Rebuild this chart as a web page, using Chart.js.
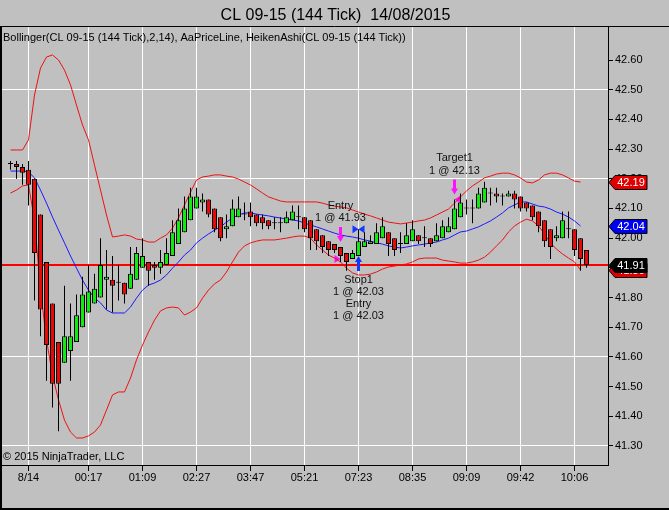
<!DOCTYPE html>
<html>
<head>
<meta charset="utf-8">
<title>CL 09-15 (144 Tick) 14/08/2015</title>
<script src="https://cdn.jsdelivr.net/npm/chart.js@4.4.0/dist/chart.umd.min.js"></script>
<style>
  html, body { margin: 0; padding: 0; background: #c0c0c0; }
</style>
</head>
<body>
<canvas id="priceChart" width="669" height="510"></canvas>
<script>
// Heiken Ashi bars, one per 144 ticks
var opens = [42.25,42.25,42.24,42.23,42.20,42.08,41.92,41.78,41.65,41.58,
  41.62,41.65,41.70,41.75,41.78,41.80,41.86,41.86,41.85,41.85,
  41.83,41.86,41.90,41.92,41.91,41.90,41.91,41.94,41.98,42.02,
  42.06,42.10,42.12,42.13,42.10,42.07,42.03,42.04,42.07,42.08,
  42.09,42.08,42.07,42.06,42.05,42.05,42.05,42.06,42.07,42.07,
  42.06,42.03,42.01,41.99,41.98,41.97,41.95,41.93,41.94,41.97,
  41.98,41.98,42.00,42.02,42.00,41.98,41.98,41.99,42.01,42.00,
  42.00,41.99,42.00,42.02,42.03,42.07,42.10,42.10,42.10,42.12,
  42.15,42.15,42.14,42.14,42.15,42.14,42.12,42.11,42.09,42.06,
  42.03,42.00,42.00,42.03,42.03,42.00,41.96];
var highs = [42.26,42.26,42.25,42.26,42.20,42.08,41.92,41.78,41.65,41.84,
  41.78,41.81,41.87,41.91,41.88,42.00,41.96,41.94,41.91,41.85,
  41.97,41.97,42.00,41.92,41.92,41.96,42.00,42.06,42.10,42.14,
  42.17,42.17,42.15,42.13,42.10,42.07,42.08,42.13,42.14,42.12,
  42.12,42.08,42.08,42.06,42.07,42.07,42.09,42.11,42.11,42.07,
  42.06,42.03,42.01,41.99,41.98,41.97,41.95,41.96,42.03,42.02,
  42.01,42.05,42.07,42.02,42.00,42.02,42.05,42.06,42.01,42.04,
  42.00,42.05,42.06,42.07,42.13,42.15,42.13,42.13,42.17,42.19,
  42.17,42.17,42.15,42.16,42.16,42.14,42.12,42.11,42.09,42.06,
  42.03,42.04,42.09,42.09,42.03,42.00,41.96];
var lows = [42.23,42.20,42.18,42.11,41.79,41.67,41.52,41.43,41.35,41.58,
  41.52,41.65,41.70,41.75,41.78,41.80,41.76,41.75,41.79,41.78,
  41.83,41.86,41.90,41.84,41.86,41.88,41.91,41.94,41.98,42.02,
  42.06,42.10,42.09,42.07,42.02,41.99,42.00,42.04,42.07,42.06,
  42.04,42.04,42.03,42.03,42.03,42.02,42.05,42.06,42.03,42.02,
  41.96,41.96,41.95,41.94,41.95,41.92,41.89,41.93,41.94,41.97,
  41.98,41.98,42.00,41.94,41.94,41.95,41.98,41.99,41.98,41.97,
  41.97,41.99,42.00,42.02,42.03,42.07,42.08,42.05,42.10,42.12,
  42.11,42.12,42.11,42.14,42.10,42.09,42.09,42.06,42.02,41.97,
  41.93,41.99,42.00,42.00,41.94,41.89,41.90];
var closes = [42.25,42.24,42.22,42.18,41.95,41.76,41.64,41.51,41.51,41.67,
  41.67,41.74,41.81,41.82,41.83,41.91,41.87,41.84,41.85,41.81,
  41.88,41.95,41.94,41.89,41.90,41.92,41.95,42.02,42.06,42.10,
  42.14,42.14,42.13,42.08,42.03,42.00,42.04,42.10,42.10,42.08,
  42.07,42.05,42.05,42.04,42.05,42.05,42.07,42.09,42.07,42.03,
  42.00,41.99,41.97,41.96,41.96,41.94,41.92,41.95,41.99,41.99,
  41.99,42.02,42.04,41.98,41.96,41.98,42.01,42.03,41.99,42.00,
  41.98,42.01,42.04,42.04,42.10,42.12,42.10,42.10,42.15,42.17,
  42.15,42.14,42.14,42.15,42.13,42.10,42.10,42.07,42.04,41.99,
  41.97,42.01,42.06,42.03,41.96,41.93,41.91];

// Bollinger(2,14) (no value on the live bar)
var upperBand = [42.297,42.297,42.297,42.331,42.482,42.573,42.610,42.617,42.600,42.566,
  42.516,42.448,42.381,42.331,42.246,42.162,42.078,42.004,42.007,42.011,
  42.007,41.997,41.994,41.987,41.987,42.000,42.011,42.034,42.068,42.112,
  42.155,42.196,42.206,42.209,42.213,42.213,42.209,42.206,42.199,42.189,
  42.179,42.166,42.152,42.139,42.132,42.125,42.122,42.122,42.122,42.122,
  42.122,42.122,42.118,42.112,42.108,42.105,42.102,42.095,42.088,42.081,
  42.075,42.068,42.061,42.054,42.051,42.048,42.051,42.054,42.058,42.061,
  42.068,42.078,42.088,42.098,42.118,42.139,42.159,42.176,42.189,42.203,
  42.209,42.216,42.219,42.219,42.213,42.203,42.189,42.186,42.196,42.213,
  42.219,42.219,42.213,42.203,42.192,42.189];
var middleBand = [42.226,42.226,42.226,42.223,42.203,42.162,42.118,42.071,42.027,41.984,
  41.940,41.899,41.859,41.825,41.798,41.782,41.758,41.748,41.748,41.748,
  41.768,41.798,41.825,41.842,41.849,41.859,41.876,41.899,41.920,41.943,
  41.960,41.984,42.000,42.014,42.027,42.038,42.054,42.068,42.078,42.085,
  42.085,42.081,42.078,42.075,42.071,42.068,42.064,42.061,42.058,42.051,
  42.044,42.038,42.031,42.024,42.017,42.011,42.007,42.004,42.000,41.994,
  41.990,41.984,41.980,41.974,41.970,41.967,41.970,41.974,41.977,41.980,
  41.984,41.987,41.994,42.000,42.011,42.021,42.024,42.031,42.038,42.048,
  42.058,42.071,42.085,42.102,42.112,42.122,42.122,42.115,42.108,42.105,
  42.098,42.088,42.081,42.071,42.058,42.041];
var lowerBand = [42.152,42.162,42.176,42.179,42.061,41.825,41.657,41.539,41.455,41.387,
  41.347,41.327,41.327,41.334,41.347,41.371,41.421,41.472,41.482,41.482,
  41.529,41.590,41.640,41.684,41.724,41.755,41.765,41.768,41.765,41.741,
  41.751,41.765,41.798,41.825,41.846,41.859,41.886,41.920,41.953,41.974,
  41.984,41.990,41.994,41.994,41.994,41.997,42.000,42.004,42.007,42.007,
  42.000,41.977,41.960,41.943,41.933,41.920,41.899,41.883,41.876,41.876,
  41.879,41.886,41.896,41.903,41.906,41.910,41.913,41.920,41.930,41.933,
  41.933,41.933,41.926,41.923,41.920,41.916,41.916,41.920,41.926,41.936,
  41.953,41.974,41.994,42.021,42.041,42.054,42.064,42.058,42.041,42.014,
  41.984,41.963,41.947,41.933,41.920,41.893];

// axis ticks
var timeTicks = [3, 13, 22, 31, 40, 49, 58, 67, 76, 85, 94];
var timeLabels = ["8/14", "00:17", "01:09", "02:27", "03:47", "05:21", "07:23", "08:35", "09:09", "09:42", "10:06"];
var priceTicks = [41.3, 41.4, 41.5, 41.6, 41.7, 41.8, 41.9, 42.0, 42.1, 42.2, 42.3, 42.4, 42.5, 42.6];
var priceGrid = [41.3, 41.6, 42.2, 42.5];

// trades
var tradeBars = [55, 58, 74];
var tradeSides = ["sell", "buy", "sell"];
var tradeTexts = [["Entry", "1 @ 41.93"], ["Stop1", "1 @ 42.03", "Entry", "1 @ 42.03"], ["Target1", "1 @ 42.13"]];
var fills = [
  { bar: 55, price: 41.93, side: "sell", kind: "entry" },
  { bar: 58, price: 42.03, side: "buy", kind: "exit" },
  { bar: 58, price: 42.03, side: "buy", kind: "entry" },
  { bar: 74, price: 42.13, side: "sell", kind: "exit" }
];

var FONT = "'Liberation Sans', Arial, sans-serif";
var UP = "#10ea10", DOWN = "#e80808", SELL = "#ff10ff", BUY = "#1038ff";
var last = closes.length - 1;

Chart.defaults.font.family = FONT;
Chart.defaults.font.size = 11;
Chart.defaults.color = "#000";

function pts(arr) {
  return arr.map(function (v, i) { return { x: i, y: v }; });
}
function near(a, b) { return Math.abs(a - b) < 1e-6; }

var bg = {
  id: "bg",
  beforeDraw: function (chart) {
    var c = chart.ctx;
    c.save();
    c.fillStyle = "#c0c0c0";
    c.fillRect(0, 0, chart.width, chart.height);
    c.restore();
  },
  beforeDatasetsDraw: function (chart) {
    var c = chart.ctx, x = chart.scales.x, y = chart.scales.y, a = chart.chartArea;
    c.save();
    // AaPriceLine
    var py = Math.round(y.getPixelForValue(closes[last]));
    c.strokeStyle = "#ff0000";
    c.lineWidth = 2;
    c.beginPath();
    c.moveTo(a.left, py);
    c.lineTo(a.right, py);
    c.stroke();
    // fill markers sit behind the bars
    fills.forEach(function (f) {
      var bx = x.getPixelForValue(f.bar);
      var fy = y.getPixelForValue(f.price);
      var base = f.kind === "entry" ? bx - 6 : bx + 6;
      c.fillStyle = f.side === "buy" ? BUY : SELL;
      c.beginPath();
      c.moveTo(base, fy - 4);
      c.lineTo(bx, fy);
      c.lineTo(base, fy + 4);
      c.closePath();
      c.fill();
    });
    c.restore();
  }
};

function arrow(c, cx, tip, dir, color) {
  // dir -1: pointing down (shaft above tip), 1: pointing up
  var len = 15, head = 6;
  c.fillStyle = color;
  c.beginPath();
  c.moveTo(cx, tip);
  c.lineTo(cx + 3.5, tip + dir * head);
  c.lineTo(cx + 1.5, tip + dir * head);
  c.lineTo(cx + 1.5, tip + dir * len);
  c.lineTo(cx - 1.5, tip + dir * len);
  c.lineTo(cx - 1.5, tip + dir * head);
  c.lineTo(cx - 3.5, tip + dir * head);
  c.closePath();
  c.fill();
}

var trades = {
  id: "trades",
  afterDatasetsDraw: function (chart) {
    var c = chart.ctx, x = chart.scales.x, y = chart.scales.y;
    c.save();
    c.font = "11px " + FONT;
    c.textAlign = "center";
    c.textBaseline = "middle";
    tradeBars.forEach(function (b, k) {
      var cx = x.getPixelForValue(b);
      var lines = tradeTexts[k];
      if (tradeSides[k] === "sell") {
        var tip = y.getPixelForValue(highs[b]) - 5;
        arrow(c, cx, tip, -1, SELL);
        c.fillStyle = "#111";
        for (var j = lines.length - 1, ty = tip - 24; j >= 0; j--, ty -= 12.5) {
          c.fillText(lines[j], cx, ty);
        }
      } else {
        var tipB = y.getPixelForValue(lows[b]);
        arrow(c, cx, tipB, 1, BUY);
        c.fillStyle = "#111";
        for (var n = 0, ty2 = tipB + 24; n < lines.length; n++, ty2 += 12) {
          c.fillText(lines[n], cx, ty2);
        }
      }
    });
    c.restore();
  }
};

var frame = {
  id: "frame",
  afterDraw: function (chart) {
    var c = chart.ctx, y = chart.scales.y, a = chart.chartArea;
    c.save();
    c.strokeStyle = "#000";
    c.lineWidth = 1;
    c.beginPath();
    c.moveTo(0, Math.round(a.top) - 0.5);
    c.lineTo(chart.width, Math.round(a.top) - 0.5);
    c.stroke();
    c.lineWidth = 2;
    c.beginPath();
    c.moveTo(1, Math.round(a.top) - 1);
    c.lineTo(1, chart.height - 1);
    c.lineTo(chart.width, chart.height - 1);
    c.stroke();

    c.fillStyle = "#000";
    c.font = "11px " + FONT;
    c.textAlign = "left";
    c.textBaseline = "middle";
    c.fillText("Bollinger(CL 09-15 (144 Tick),2,14), AaPriceLine, HeikenAshi(CL 09-15 (144 Tick))", 3, a.top + 11);
    c.fillText("\u00a9 2015 NinjaTrader, LLC", 3, a.bottom - 8);

    // value flags on the price axis
    var flags = [
      [lowerBand[lowerBand.length - 1], "#e00000"],
      [upperBand[upperBand.length - 1], "#e00000"],
      [middleBand[middleBand.length - 1], "#0000f0"],
      [closes[last], "#000"]
    ];
    var x0 = a.right;
    flags.forEach(function (f) {
      var fy = Math.round(y.getPixelForValue(f[0]));
      c.beginPath();
      c.moveTo(x0 + 1, fy + 0.5);
      c.lineTo(x0 + 7, fy - 6.5);
      c.lineTo(x0 + 39, fy - 6.5);
      c.lineTo(x0 + 39, fy + 7.5);
      c.lineTo(x0 + 7, fy + 7.5);
      c.closePath();
      c.fillStyle = f[1];
      c.fill();
      c.lineWidth = 1;
      c.strokeStyle = "#000";
      c.stroke();
      c.fillStyle = "#fff";
      c.textAlign = "center";
      c.fillText(f[0].toFixed(2), x0 + 23, fy + 1);
    });
    c.restore();
  }
};

var ctx = document.getElementById("priceChart").getContext("2d");
var bars = closes.map(function (v, i) { return i; });

var priceChart = new Chart(ctx, {
  type: "bar",
  data: {
    datasets: [
      { type: "line", label: "Upper", data: pts(upperBand), borderColor: "#f01010", borderWidth: 1, pointRadius: 0, tension: 0, order: 5 },
      { type: "line", label: "Lower", data: pts(lowerBand), borderColor: "#f01010", borderWidth: 1, pointRadius: 0, tension: 0, order: 5 },
      { type: "line", label: "Middle", data: pts(middleBand), borderColor: "#1a1aff", borderWidth: 1, pointRadius: 0, tension: 0, order: 5 },
      {
        label: "Wick",
        data: bars.map(function (i) { return { x: i, y: [lows[i], highs[i]] }; }),
        backgroundColor: "#000",
        borderWidth: 0,
        barThickness: 1,
        inflateAmount: 0,
        minBarLength: 1,
        grouped: false,
        order: 2
      },
      {
        label: "Body",
        data: bars.map(function (i) { return { x: i, y: [opens[i], closes[i]] }; }),
        backgroundColor: function (c) {
          var i = c.dataIndex;
          if (closes[i] > opens[i]) return UP;
          if (closes[i] < opens[i]) return DOWN;
          return "#000";
        },
        borderColor: "#000",
        borderWidth: 1,
        borderSkipped: false,
        barThickness: 5,
        inflateAmount: 0,
        minBarLength: 1,
        grouped: false,
        order: 1
      }
    ]
  },
  options: {
    responsive: false,
    animation: false,
    events: [],
    layout: { padding: { left: 2, right: 0, top: 0, bottom: 0 } },
    plugins: {
      legend: { display: false },
      tooltip: { enabled: false },
      title: {
        display: true,
        text: "CL 09-15 (144 Tick)  14/08/2015",
        color: "#000",
        font: { size: 16, weight: "normal" },
        padding: { top: 6, bottom: 2 }
      }
    },
    scales: {
      x: {
        type: "linear",
        offset: false,
        min: -1.41667,
        max: 99.58333,
        afterBuildTicks: function (s) {
          s.ticks = timeTicks.map(function (v) { return { value: v }; });
        },
        afterFit: function (s) { s.height = 45; },
        ticks: {
          autoSkip: false,
          maxRotation: 0,
          padding: 0,
          callback: function (v) { return timeLabels[timeTicks.indexOf(v)]; }
        },
        grid: { offset: false, color: "#fff", tickColor: "#000", tickLength: 6 },
        border: { color: "#000" }
      },
      y: {
        position: "right",
        min: 41.236,
        max: 42.7105,
        afterBuildTicks: function (s) {
          s.ticks = priceTicks.map(function (v) { return { value: v }; });
        },
        afterFit: function (s) { s.width = 61; },
        ticks: {
          autoSkip: false,
          padding: 2,
          callback: function (v) { return v.toFixed(2); }
        },
        grid: {
          color: function (c) {
            var v = c.tick && c.tick.value;
            return priceGrid.some(function (g) { return near(g, v); }) ? "#fff" : "rgba(0,0,0,0)";
          },
          tickColor: "#000",
          tickLength: 5
        },
        border: { color: "#000" }
      }
    }
  },
  plugins: [bg, trades, frame]
});
</script>
</body>
</html>
